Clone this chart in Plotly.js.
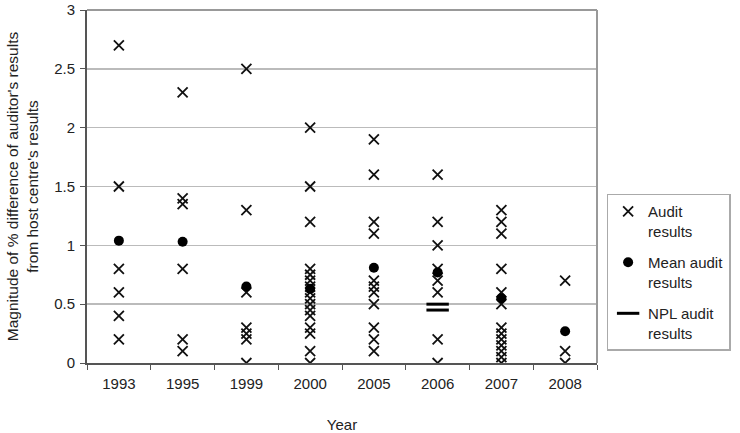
<!DOCTYPE html>
<html><head><meta charset="utf-8">
<script src="https://cdn.plot.ly/plotly-3.0.1.min.js"></script>
<style>html,body{margin:0;padding:0;background:#fff}#chart{width:740px;height:433px}</style>
</head><body><div id="chart"></div>
<script>
var years = ["1993","1995","1999","2000","2005","2006","2007","2008"];
var audit1993 = [2.7, 1.5, 0.8, 0.6, 0.4, 0.2];
var audit1995 = [2.3, 1.4, 1.35, 0.8, 0.2, 0.1];
var audit1999 = [2.5, 1.3, 0.6, 0.3, 0.25, 0.2, 0];
var audit2000 = [2.0, 1.5, 1.2, 0.8, 0.75, 0.7, 0.65, 0.6, 0.55, 0.5, 0.45, 0.4, 0.3, 0.25, 0.1, 0];
var audit2005 = [1.9, 1.6, 1.2, 1.1, 0.7, 0.65, 0.6, 0.5, 0.3, 0.2, 0.1];
var audit2006 = [1.6, 1.2, 1.0, 0.8, 0.7, 0.6, 0.2, 0];
var audit2007 = [1.3, 1.2, 1.1, 0.8, 0.6, 0.5, 0.3, 0.25, 0.2, 0.15, 0.1, 0.05, 0];
var audit2008 = [0.7, 0.1, 0];
var meanValues = [1.04, 1.03, 0.65, 0.63, 0.81, 0.77, 0.55, 0.27];
var nplYears = ["2006", "2006"];
var nplValues = [0.5, 0.45];
var yTickVals = [0, 0.5, 1, 1.5, 2, 2.5, 3];
var yTickText = ["0", "0.5", "1", "1.5", "2", "2.5", "3"];

var auditByYear = [audit1993, audit1995, audit1999, audit2000, audit2005, audit2006, audit2007, audit2008];
var ax = [], ay = [];
auditByYear.forEach(function(arr, i){ arr.forEach(function(v){ ax.push(years[i]); ay.push(v); }); });

var font = "Liberation Sans, Arial, sans-serif";
var txt = "#222";
var traces = [
  {type:"scatter", mode:"markers", name:"Audit<br>results", legendgroup:"a", x:ax, y:ay,
   marker:{symbol:"x-thin-open", size:10, color:"#111", line:{width:1.8, color:"#111"}}},
  {type:"scatter", mode:"markers", name:"Mean audit<br>results", legendgroup:"b", x:years, y:meanValues,
   marker:{symbol:"circle", size:10, color:"#000"}},
  {type:"scatter", mode:"markers", name:"NPL audit<br>results", legendgroup:"c", x:nplYears, y:nplValues,
   marker:{symbol:"line-ew-open", size:16, color:"#000", line:{width:3, color:"#000"}}}
];
var layout = {
  width:740, height:433,
  margin:{l:87, r:137, t:10, b:70},
  paper_bgcolor:"#fff", plot_bgcolor:"#fff",
  font:{family:font, size:15, color:txt},
  showlegend:true,
  legend:{x:1.262, y:0.48, xanchor:"right", yanchor:"top", bordercolor:"#aaa", borderwidth:1.5,
          font:{family:font, size:15, color:txt}, valign:"top", itemwidth:30, tracegroupgap:9},
  xaxis:{type:"category", categoryorder:"array", categoryarray:years, range:[-0.5,7.5],
         tickson:"boundaries", ticks:"outside", ticklen:5, tickcolor:"#555", ticklabelstandoff:6,
         showline:true, linecolor:"#555", linewidth:2, mirror:false, showgrid:false, zeroline:false,
         tickfont:{family:font, size:15, color:txt},
         title:{text:"Year", font:{family:font, size:15, color:txt}, standoff:28}},
  yaxis:{range:[0,3], tickmode:"array", tickvals:yTickVals, ticktext:yTickText, ticklabeloverflow:"allow",
         ticks:"outside", ticklen:5, tickcolor:"#555", ticklabelstandoff:2,
         showline:true, linecolor:"#555", linewidth:2, showgrid:true, gridcolor:"#bbb", gridwidth:1.5,
         zeroline:false, tickfont:{family:font, size:15, color:txt},
         title:{text:"Magnitude of % difference of auditor's results<br>from host centre's results",
                font:{family:font, size:15.5, color:txt}, standoff:12}},
  shapes:[
    {type:"line", xref:"paper", yref:"paper", x0:0, x1:1, y0:1, y1:1, line:{color:"#999", width:2}},
    {type:"line", xref:"paper", yref:"paper", x0:1, x1:1, y0:0, y1:1, line:{color:"#999", width:2}}
  ]
};
Plotly.newPlot("chart", traces, layout, {displayModeBar:false, staticPlot:true});
</script></body></html>
